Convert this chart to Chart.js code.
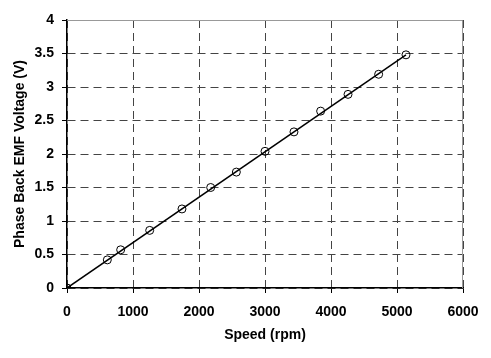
<!DOCTYPE html>
<html>
<head>
<meta charset="utf-8">
<script src="https://cdn.jsdelivr.net/npm/chart.js@4.4.0/dist/chart.umd.min.js"></script>
<style>
  html, body { margin: 0; padding: 0; background: #fff; }
  #wrap { width: 491px; height: 358px; }
</style>
</head>
<body>
<div id="wrap"><canvas id="grafica" width="491" height="358"></canvas></div>
<script>
// measured points (speed in rpm, back EMF in V)
var speed = [0, 611, 813, 1253, 1742, 2177, 2566, 3000, 3439, 3843, 4258, 4722, 5136];
var emf = [0, 0.42, 0.57, 0.86, 1.18, 1.50, 1.73, 2.04, 2.33, 2.64, 2.89, 3.19, 3.48];
// straight fit through the points
var fitSpeed = [0, 5136];
var fitEmf = [0, 3.48];
var xTicks = [0, 1000, 2000, 3000, 4000, 5000, 6000];
var yTicks = [0, 0.5, 1, 1.5, 2, 2.5, 3, 3.5, 4];

function toXY(xs, ys) {
    return xs.map(function (x, i) { return { x: x, y: ys[i] }; });
}

var marco = {
    id: 'marco',
    beforeDatasetsDraw: function (chart) {
        var a = chart.chartArea, c = chart.ctx;
        c.save();
        c.strokeStyle = '#999';
        c.lineWidth = 1;
        c.beginPath();
        c.moveTo(a.left, a.top + 0.5);
        c.lineTo(a.right - 0.5, a.top + 0.5);
        c.lineTo(a.right - 0.5, a.bottom);
        c.stroke();
        c.restore();
    }
};

var fuente = { family: "'Liberation Sans', Arial, sans-serif", size: 14, weight: 'bold' };
var etiqueta = function (v) { return String(v); };

var ctx = document.getElementById('grafica');
var grafica = new Chart(ctx, {
    type: 'scatter',
    data: {
        datasets: [{
            data: toXY(fitSpeed, fitEmf),
            showLine: true,
            borderColor: '#000',
            borderWidth: 1.5,
            pointRadius: 0,
            order: 2
        }, {
            data: toXY(speed, emf),
            showLine: false,
            pointStyle: 'circle',
            pointRadius: 4,
            borderColor: '#000',
            borderWidth: 1,
            backgroundColor: 'rgba(0,0,0,0)',
            order: 1
        }]
    },
    options: {
        responsive: false,
        animation: false,
        layout: { padding: { top: 20, right: 28, left: 0, bottom: 0 } },
        plugins: { legend: { display: false }, tooltip: { enabled: false } },
        scales: {
            x: {
                type: 'linear',
                min: 0, max: 6000,
                afterBuildTicks: function (s) { s.ticks = xTicks.map(function (v) { return { value: v }; }); },
                afterFit: function (s) { s.height = 70; },
                grid: { color: '#444', lineWidth: 1, tickLength: 5, tickColor: '#000', tickBorderDash: [] },
                border: { color: '#000', width: 1.5, dash: [8, 5] },
                ticks: { color: '#000', font: fuente, padding: 11, maxRotation: 0, callback: etiqueta },
                title: { display: true, text: 'Speed (rpm)', color: '#000', font: fuente, padding: { top: 0, bottom: 14 } }
            },
            y: {
                type: 'linear',
                min: 0, max: 4,
                afterBuildTicks: function (s) { s.ticks = yTicks.map(function (v) { return { value: v }; }); },
                afterFit: function (s) { s.width = 67; },
                grid: { color: '#444', lineWidth: 1, tickLength: 5, tickColor: '#000', tickBorderDash: [] },
                border: { color: '#000', width: 1.5, dash: [8, 5] },
                ticks: { color: '#000', font: fuente, padding: 8, callback: etiqueta },
                title: { display: true, text: 'Phase Back EMF Voltage (V)', color: '#000', font: fuente, padding: { top: 12, bottom: 0 } }
            }
        }
    },
    plugins: [marco]
});
</script>
</body>
</html>
